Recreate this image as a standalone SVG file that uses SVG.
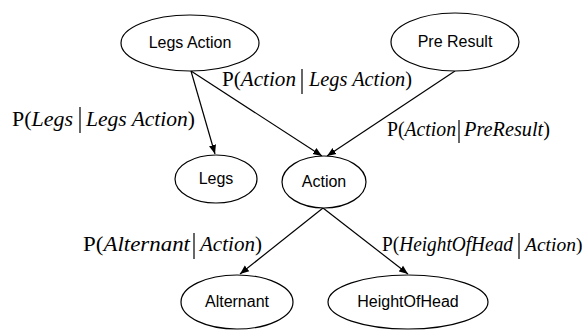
<svg xmlns="http://www.w3.org/2000/svg" width="587" height="331" viewBox="0 0 587 331">
  <style>
    .node ellipse { fill: #ffffff; stroke: #000000; stroke-width: 1.2; }
    .node text { font-family: "Liberation Sans", Arial, sans-serif; font-size: 16px; text-anchor: middle; fill: #000000; }
    .edge { stroke: #000000; stroke-width: 1.2; fill: none; marker-end: url(#arrow); }
    .lbl { font-family: "Liberation Serif", "Times New Roman", serif; font-size: 20.5px; fill: #000000; }
    .lbl .v { font-style: italic; }
    .bar { stroke: #000000; stroke-width: 1.2; }
  </style>
  <defs>
    <marker id="arrow" viewBox="0 0 10 10" refX="10" refY="5" markerWidth="9" markerHeight="9" markerUnits="userSpaceOnUse" orient="auto">
      <path d="M0,1 L10,5 L0,9 Z" fill="#000000"/>
    </marker>
  </defs>

  <!-- connectors -->
  <g id="connectors">
    <line class="edge" x1="191" y1="71" x2="215" y2="154"/>
    <line class="edge" x1="191" y1="71" x2="322" y2="156"/>
    <line class="edge" x1="455" y1="71" x2="327" y2="156"/>
    <line class="edge" x1="323" y1="208" x2="240" y2="274"/>
    <line class="edge" x1="323" y1="208" x2="408" y2="274"/>
  </g>

  <!-- conditional probability labels -->
  <g id="labels">
    <text class="lbl" x="222" y="86" textLength="74" lengthAdjust="spacingAndGlyphs">P(<tspan class="v">Action</tspan></text>
    <line class="bar" x1="302" y1="69" x2="302" y2="94"/>
    <text class="lbl" x="309" y="86" textLength="103" lengthAdjust="spacingAndGlyphs"><tspan class="v">Legs Action</tspan>)</text>

    <text class="lbl" x="12" y="126" textLength="61" lengthAdjust="spacingAndGlyphs">P(<tspan class="v">Legs</tspan></text>
    <line class="bar" x1="80" y1="107" x2="80" y2="133"/>
    <text class="lbl" x="86" y="126" textLength="109" lengthAdjust="spacingAndGlyphs"><tspan class="v">Legs Action</tspan>)</text>

    <text class="lbl" x="387" y="136" textLength="69" lengthAdjust="spacingAndGlyphs">P(<tspan class="v">Action</tspan></text>
    <line class="bar" x1="459" y1="120" x2="459" y2="143"/>
    <text class="lbl" x="464" y="136" textLength="86" lengthAdjust="spacingAndGlyphs"><tspan class="v">PreResult</tspan>)</text>

    <text class="lbl" x="83" y="251" textLength="107" lengthAdjust="spacingAndGlyphs">P(<tspan class="v">Alternant</tspan></text>
    <line class="bar" x1="194" y1="233" x2="194" y2="259"/>
    <text class="lbl" x="200" y="251" textLength="62" lengthAdjust="spacingAndGlyphs"><tspan class="v">Action</tspan>)</text>

    <text class="lbl" x="382" y="251" textLength="131" lengthAdjust="spacingAndGlyphs">P(<tspan class="v">HeightOfHead</tspan></text>
    <line class="bar" x1="519" y1="233" x2="519" y2="259"/>
    <text class="lbl" x="525" y="251" style="font-size:19.5px"><tspan class="v">Action</tspan>)</text>
  </g>

  <!-- nodes -->
  <g id="legs-action" class="node">
    <ellipse cx="190" cy="43" rx="69" ry="28"/>
    <text x="190" y="48">Legs Action</text>
  </g>
  <g id="pre-result" class="node">
    <ellipse cx="455" cy="42" rx="64" ry="29"/>
    <text x="455" y="47">Pre Result</text>
  </g>
  <g id="legs" class="node">
    <ellipse cx="216" cy="179" rx="41" ry="24"/>
    <text x="216" y="184">Legs</text>
  </g>
  <g id="action" class="node">
    <ellipse cx="324" cy="182" rx="42" ry="26"/>
    <text x="324" y="187">Action</text>
  </g>
  <g id="alternant" class="node">
    <ellipse cx="237" cy="302" rx="56" ry="27"/>
    <text x="237" y="307">Alternant</text>
  </g>
  <g id="height-of-head" class="node">
    <ellipse cx="408" cy="302" rx="80" ry="27"/>
    <text x="408" y="307">HeightOfHead</text>
  </g>
</svg>
